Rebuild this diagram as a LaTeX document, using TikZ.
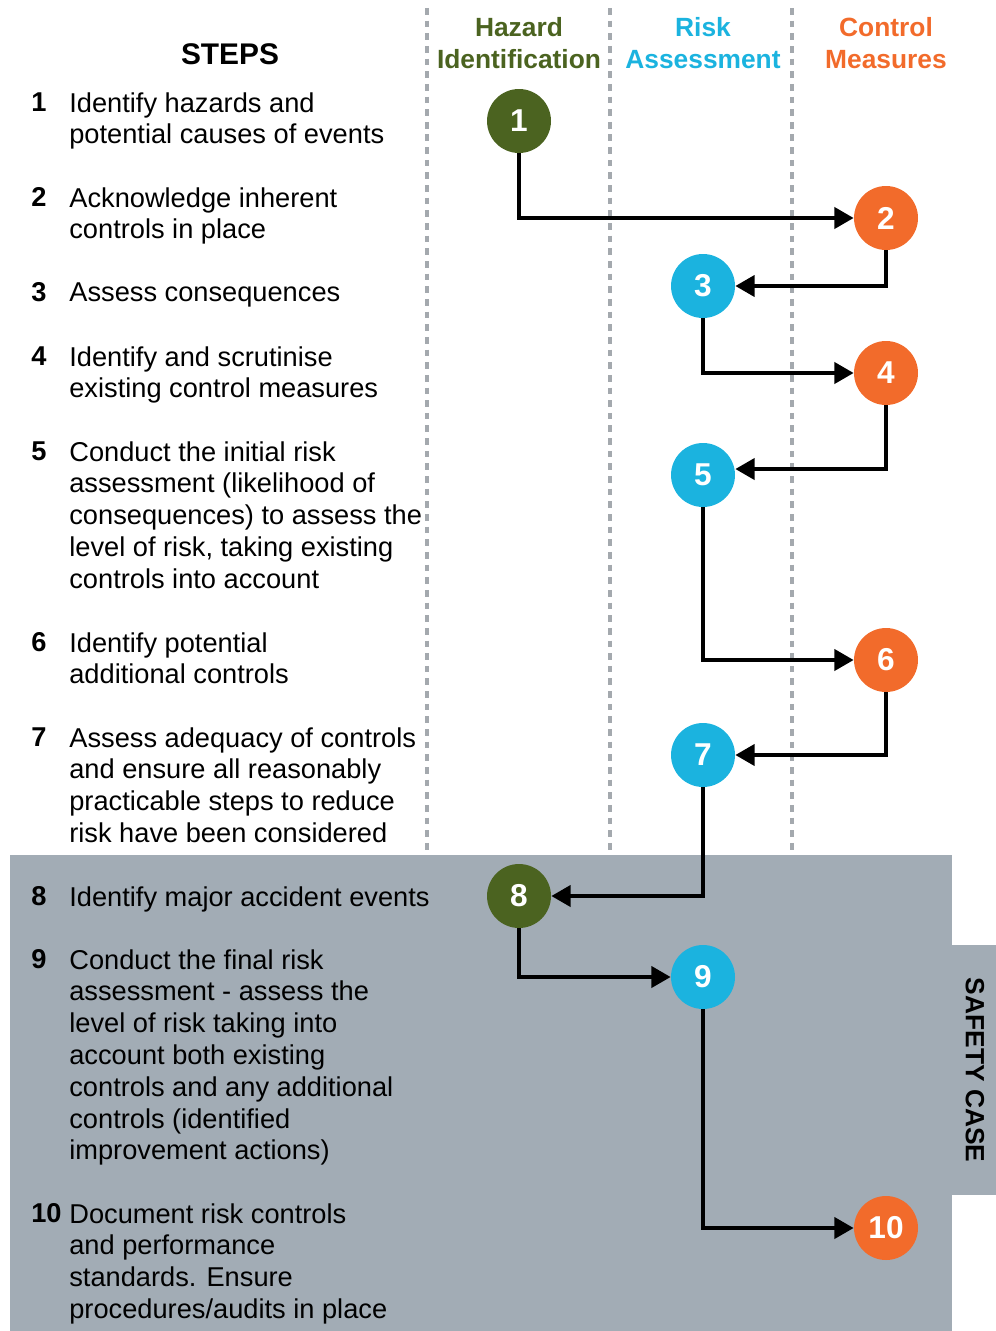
\documentclass[tikz,border=0pt]{standalone}
\usepackage{fontspec}
\setmainfont{Liberation Sans}
\usetikzlibrary{arrows.meta}

\definecolor{hazgreen}{HTML}{4B6320}
\definecolor{riskblue}{HTML}{1BB3DF}
\definecolor{ctrlorange}{HTML}{F26B2B}
\definecolor{casegray}{HTML}{A2ACB5}
\definecolor{colgray}{HTML}{A4A9AE}

\begin{document}
\begin{tikzpicture}
[
    x=0.02cm, y=-0.02cm,
    stepdot/.style={circle, minimum size=1.28cm, inner sep=0pt, text=white, font=\fontsize{18}{18}\selectfont\bfseries},
    hazard/.style={stepdot, fill=hazgreen},
    risk/.style={stepdot, fill=riskblue},
    control/.style={stepdot, fill=ctrlorange},
    flow/.style={line width=2.2pt, -{Triangle[length=11pt, width=12pt]}},
    column/.style={colgray, line width=2pt, dash pattern=on 3.8pt off 3.4pt},
    steptext/.style={anchor=north west, align=left, inner sep=0pt, font=\fontsize{15.5}{18.1}\selectfont},
    stepno/.style={anchor=north west, inner sep=0pt, font=\fontsize{15.5}{18.1}\selectfont\bfseries},
    heading/.style={align=center, inner sep=0pt, font=\fontsize{15}{18.1}\selectfont\bfseries},
]
\useasboundingbox (0,0) rectangle (996,1331);

% safety case band
\fill[casegray] (10,855) rectangle (952,1331);
\fill[casegray] (952,945) rectangle (996,1195);
\node[rotate=-90, font=\fontsize{15}{15}\selectfont\bfseries] (case) at (975,1070) {SAFETY CASE};

% columns
\draw[column] (427,8) -- (427,855);
\draw[column] (610,8) -- (610,855);
\draw[column] (792,8) -- (792,855);

\node[heading, text=hazgreen] (hhaz) at (519,43) {Hazard\\Identification};
\node[heading, text=riskblue] (hrisk) at (703,43) {Risk\\Assessment};
\node[heading, text=ctrlorange] (hctrl) at (886,43) {Control\\Measures};
\node[font=\fontsize{17}{17}\selectfont\bfseries] (steps) at (230,54) {STEPS};

% steps
\node[stepno] (n1) at (31,92) {1};
\node[steptext] (t1) at (69,92) {Identify hazards and\\potential causes of events};
\node[stepno] (n2) at (31,187) {2};
\node[steptext] (t2) at (69,187) {Acknowledge inherent\\controls in place};
\node[stepno] (n3) at (31,282) {3};
\node[steptext] (t3) at (69,282) {Assess consequences};
\node[stepno] (n4) at (31,346) {4};
\node[steptext] (t4) at (69,346) {Identify and scrutinise\\existing control measures};
\node[stepno] (n5) at (31,441) {5};
\node[steptext] (t5) at (69,441) {Conduct the initial risk\\assessment (likelihood of\\consequences) to assess the\\level of risk, taking existing\\controls into account};
\node[stepno] (n6) at (31,632) {6};
\node[steptext] (t6) at (69,632) {Identify potential\\additional controls};
\node[stepno] (n7) at (31,727) {7};
\node[steptext] (t7) at (69,727) {Assess adequacy of controls\\and ensure all reasonably\\practicable steps to reduce\\risk have been considered};
\node[stepno] (n8) at (31,886) {8};
\node[steptext] (t8) at (69,886) {Identify major accident events};
\node[stepno] (n9) at (31,949) {9};
\node[steptext] (t9) at (69,949) {Conduct the final risk\\assessment - assess the\\level of risk taking into\\account both existing\\controls and any additional\\controls (identified\\improvement actions)};
\node[stepno] (n10) at (31,1203) {10};
\node[steptext] (t10) at (69,1203) {Document risk controls\\and performance\\standards. Ensure\\procedures/audits in place};

% flow
\node[hazard] (c1) at (519,121) {1};
\node[control] (c2) at (886,218) {2};
\node[risk] (c3) at (703,286) {3};
\node[control] (c4) at (886,373) {4};
\node[risk] (c5) at (703,475) {5};
\node[control] (c6) at (886,660) {6};
\node[risk] (c7) at (703,755) {7};
\node[hazard] (c8) at (519,896) {8};
\node[risk] (c9) at (703,977) {9};
\node[control] (c10) at (886,1228) {10};

\foreach \a/\b in {1/2,2/3,3/4,5/6,6/7,7/8,8/9,9/10}
    \draw[flow] (c\a) |- (c\b);
\draw[flow] (c4) |- ([yshift=3.4pt]c5.east);
\end{tikzpicture}
\end{document}
